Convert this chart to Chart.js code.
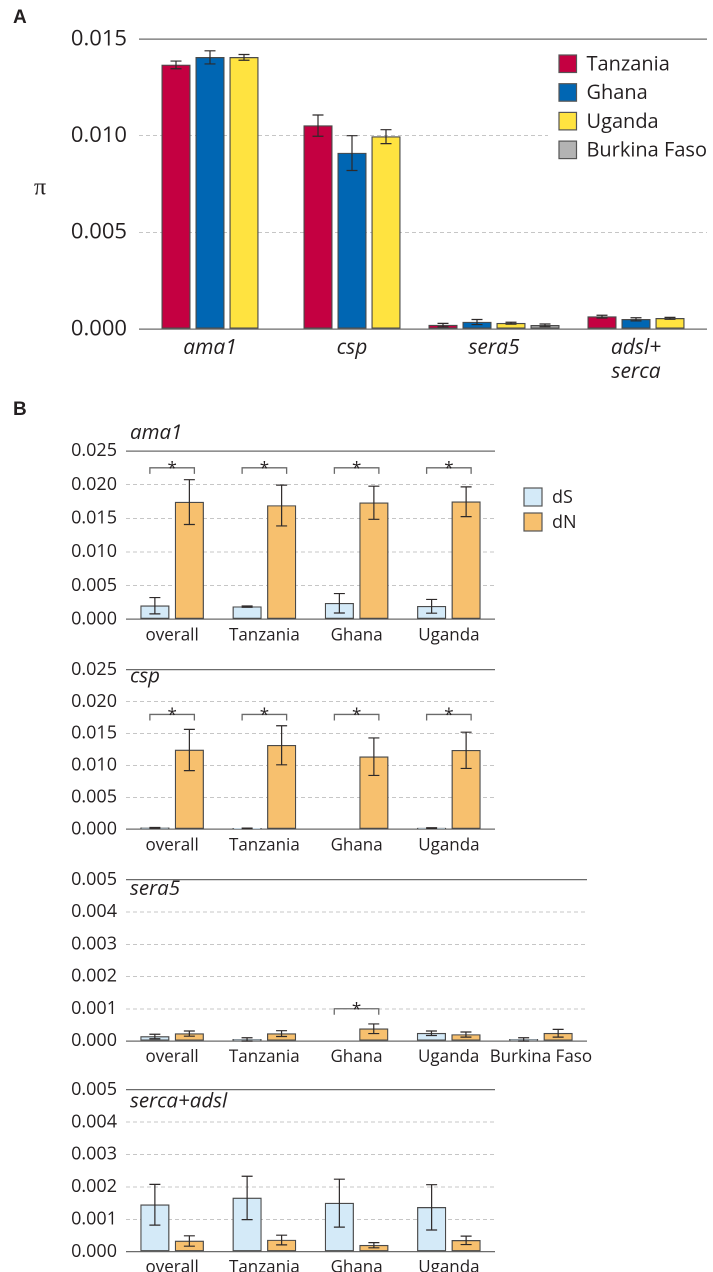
<!DOCTYPE html>
<html>
<head>
<meta charset="utf-8">
<script src="https://cdn.jsdelivr.net/npm/chart.js@4.4.0/dist/chart.umd.min.js"></script>
<style>
body { margin: 0; background: #fff; }
#page { position: relative; width: 713px; height: 1272px; overflow: hidden; background: #fff; }
canvas { position: absolute; left: 0; }
</style>
</head>
<body>
<div id="page">
  <canvas id="cA"></canvas>
  <canvas id="cAma1"></canvas>
  <canvas id="cCsp"></canvas>
  <canvas id="cSera5"></canvas>
  <canvas id="cSerca"></canvas>
</div>
<script>
// ---- panel A: nucleotide diversity (pi) per gene and country
var genesA = [['ama1'], ['csp'], ['sera5'], ['adsl+', 'serca']];
var countriesA = ['Tanzania', 'Ghana', 'Uganda', 'Burkina Faso'];
var piTanzania = [0.01366, 0.01052, 0.00020, 0.00064];
var piTanzaniaErr = [0.00020, 0.00055, 0.00009, 0.00007];
var piGhana = [0.01405, 0.00910, 0.00036, 0.00050];
var piGhanaErr = [0.00034, 0.00090, 0.00013, 0.00008];
var piUganda = [0.01405, 0.00995, 0.00030, 0.00055];
var piUgandaErr = [0.00015, 0.00036, 0.00005, 0.00005];
var piBurkina = [null, null, 0.00019, null];
var piBurkinaErr = [null, null, 0.00007, null];
var ticksA = [0, 0.005, 0.010, 0.015];

// ---- panel B: dS / dN per population
var popsB = ['overall', 'Tanzania', 'Ghana', 'Uganda'];
var popsSera5 = ['overall', 'Tanzania', 'Ghana', 'Uganda', 'Burkina Faso'];
var ticksBig = [0, 0.005, 0.010, 0.015, 0.020, 0.025];
var ticksSmall = [0, 0.001, 0.002, 0.003, 0.004, 0.005];

var ama1DS = [0.00202, 0.00188, 0.00238, 0.00193];
var ama1DSErr = [0.00121, 0.00010, 0.00144, 0.00102];
var ama1DN = [0.01741, 0.01690, 0.01731, 0.01746];
var ama1DNErr = [0.00333, 0.00303, 0.00246, 0.00221];
var ama1Sig = [true, true, true, true];

var cspDS = [0.00024, 0.00015, null, 0.00020];
var cspDSErr = [0.00005, 0.00004, null, 0.00005];
var cspDN = [0.01243, 0.01317, 0.01138, 0.01238];
var cspDNErr = [0.00323, 0.00306, 0.00294, 0.00284];
var cspSig = [true, true, true, true];

var sera5DS = [0.00014, 0.00005, null, 0.00024, 0.00005];
var sera5DSErr = [0.00007, 0.00005, null, 0.00007, 0.00005];
var sera5DN = [0.00023, 0.00023, 0.00038, 0.00020, 0.00024];
var sera5DNErr = [0.00008, 0.00009, 0.00015, 0.00008, 0.00012];
var sera5Sig = [false, false, true, false, false];

var sercaDS = [0.00145, 0.00166, 0.00150, 0.00137];
var sercaDSErr = [0.00063, 0.00067, 0.00074, 0.00070];
var sercaDN = [0.00033, 0.00036, 0.00020, 0.00035];
var sercaDNErr = [0.00016, 0.00015, 0.00008, 0.00013];
var sercaSig = [false, false, false, false];

var TEXT = '#231f20';
var FONT = "'Open Sans', sans-serif";
Chart.defaults.font.family = FONT;
Chart.defaults.color = TEXT;

// extra drawing per canvas: error bars, brackets, titles, legends
var decor = {};

var decorPlugin = {
  id: 'decor',
  afterDatasetsDraw: function (chart) {
    var ctx = chart.ctx, yS = chart.scales.y;
    ctx.save();
    ctx.strokeStyle = '#2e2a2a';
    ctx.lineWidth = 1.2;
    chart.data.datasets.forEach(function (ds, di) {
      var meta = chart.getDatasetMeta(di);
      ds.data.forEach(function (v, i) {
        var e = ds.errors[i];
        if (v == null || e == null) return;
        var x = meta.data[i].x;
        var y1 = yS.getPixelForValue(v + e);
        var y2 = yS.getPixelForValue(Math.max(v - e, 0));
        ctx.beginPath();
        ctx.moveTo(x, y1); ctx.lineTo(x, y2);
        ctx.moveTo(x - 5.5, y1); ctx.lineTo(x + 5.5, y1);
        ctx.moveTo(x - 5.5, y2); ctx.lineTo(x + 5.5, y2);
        ctx.stroke();
      });
    });
    ctx.restore();
  },
  afterDraw: function (chart) {
    var d = decor[chart.canvas.id];
    if (!d) return;
    var ctx = chart.ctx, yS = chart.scales.y;
    ctx.save();
    ctx.fillStyle = TEXT;
    if (d.letter) {
      ctx.font = "bold 19px 'Liberation Sans', Arial, sans-serif";
      ctx.textBaseline = 'middle';
      ctx.textAlign = 'left';
      ctx.fillText(d.letter, 13, d.letterY);
    }
    if (d.yTitle) {
      ctx.font = "24px 'Liberation Serif', serif";
      ctx.textAlign = 'center';
      ctx.textBaseline = 'middle';
      ctx.fillText(d.yTitle, 40, d.yTitleY);
    }
    if (d.title) {
      ctx.font = 'italic 20.5px ' + FONT;
      ctx.textAlign = 'left';
      ctx.textBaseline = 'middle';
      ctx.fillText(d.title, 130, d.titleY);
    }
    if (d.sig) {
      var m0 = chart.getDatasetMeta(0), m1 = chart.getDatasetMeta(1);
      var by = yS.getPixelForValue(d.bracketAt);
      ctx.strokeStyle = '#6a6a6a';
      ctx.lineWidth = 1.3;
      ctx.font = '17px ' + FONT;
      ctx.textAlign = 'center';
      ctx.textBaseline = 'alphabetic';
      d.sig.forEach(function (s, i) {
        if (!s) return;
        var x1 = m0.data[i].x - 5, x2 = m1.data[i].x + 5;
        ctx.beginPath();
        ctx.moveTo(x1, by + 6); ctx.lineTo(x1, by); ctx.lineTo(x2, by); ctx.lineTo(x2, by + 6);
        ctx.stroke();
        ctx.fillText('*', (x1 + x2) / 2, by + 6);
      });
    }
    if (d.legend) {
      var L = d.legend;
      if (L.bg) {
        ctx.fillStyle = '#fff';
        ctx.fillRect(L.bg[0], L.bg[1], L.bg[2], L.bg[3]);
      }
      ctx.font = L.size + 'px ' + FONT;
      ctx.textAlign = 'left';
      ctx.textBaseline = 'middle';
      chart.data.datasets.forEach(function (ds, i) {
        var y = L.y + i * L.pitch;
        ctx.fillStyle = ds.backgroundColor;
        ctx.fillRect(L.x, y, L.box, L.box);
        ctx.strokeStyle = '#555';
        ctx.lineWidth = 1.2;
        ctx.strokeRect(L.x, y, L.box, L.box);
        ctx.fillStyle = TEXT;
        ctx.fillText(ds.label, L.x + L.box + 10, y + L.box / 2 + 1);
      });
    }
    ctx.restore();
  }
};

function makeChart(id, box, labels, datasets, yTicks, opt) {
  var cv = document.getElementById(id);
  var h = box.bottomCanvas - box.topCanvas;
  cv.style.top = box.topCanvas + 'px';
  cv.style.width = '713px';
  cv.style.height = h + 'px';
  cv.width = 713;
  cv.height = h;
  var yMax = yTicks[yTicks.length - 1];
  var isEdge = function (c) {
    return !c.tick || c.tick.value < 1e-12 || Math.abs(c.tick.value - yMax) < 1e-12;
  };
  datasets.forEach(function (ds) {
    ds.borderColor = '#4a4a4a';
    ds.borderWidth = 1.2;
    ds.borderSkipped = false;
    ds.barThickness = opt.pitch;
    ds.maxBarThickness = opt.barWidth;
    if (opt.skipNull) ds.skipNull = true;
  });
  return new Chart(cv, {
    type: 'bar',
    data: { labels: labels, datasets: datasets },
    options: {
      responsive: false,
      animation: false,
      devicePixelRatio: 2,
      layout: { padding: { top: box.top - box.topCanvas, right: 713 - box.right, left: 0, bottom: 0 } },
      plugins: { legend: { display: false }, tooltip: { enabled: false } },
      scales: {
        x: {
          afterFit: function (s) { s.height = box.bottomCanvas - box.bottom; },
          grid: { display: false, drawTicks: false },
          border: { display: false },
          ticks: { padding: opt.xPad, font: opt.xFont, color: TEXT, autoSkip: false, maxRotation: 0 }
        },
        y: {
          min: 0,
          max: yMax,
          afterBuildTicks: function (s) { s.ticks = yTicks.map(function (v) { return { value: v }; }); },
          afterFit: function (s) { s.width = box.left; },
          grid: {
            drawTicks: false,
            color: function (c) { return isEdge(c) ? '#6b6b6b' : '#c6c6c6'; },
            lineWidth: function (c) { return isEdge(c) ? 1.3 : 1; }
          },
          border: { display: false, dash: function (c) { return isEdge(c) ? [] : [4, 3]; } },
          ticks: {
            padding: opt.yPad,
            font: { size: opt.ySize },
            color: TEXT,
            callback: function (v) { return Number(v).toFixed(3); }
          }
        }
      }
    },
    plugins: [decorPlugin]
  });
}

var dsStyle = '#d4eaf8', dnStyle = '#f7c06e';

function dsdn(dS, dSErr, dN, dNErr) {
  return [
    { label: 'dS', data: dS, errors: dSErr, backgroundColor: dsStyle },
    { label: 'dN', data: dN, errors: dNErr, backgroundColor: dnStyle }
  ];
}

// panel A
decor.cA = {
  letter: 'A', letterY: 18, yTitle: '\u03c0', yTitleY: 188,
  legend: { x: 559, y: 55, pitch: 28.7, box: 17.5, size: 20, bg: [548, 46, 165, 122] }
};
makeChart('cA', { topCanvas: 0, bottomCanvas: 390, top: 39, bottom: 329, left: 139, right: 707 },
  genesA,
  [
    { label: countriesA[0], data: piTanzania, errors: piTanzaniaErr, backgroundColor: '#c40041' },
    { label: countriesA[1], data: piGhana, errors: piGhanaErr, backgroundColor: '#0066b3' },
    { label: countriesA[2], data: piUganda, errors: piUgandaErr, backgroundColor: '#ffe340' },
    { label: countriesA[3], data: piBurkina, errors: piBurkinaErr, backgroundColor: '#b3b3b3' }
  ],
  ticksA,
  { pitch: 34, barWidth: 28.5, skipNull: true, xPad: 7, yPad: 12, ySize: 22,
    xFont: { size: 21, style: 'italic', lineHeight: 1.143 } });

// panel B
var xFontB = { size: 17, lineHeight: 1.2 };
decor.cAma1 = {
  letter: 'B', letterY: 15, title: 'ama1', titleY: 433 - 395,
  sig: ama1Sig, bracketAt: 0.0225,
  legend: { x: 524, y: 93, pitch: 25, box: 18, size: 18 }
};
makeChart('cAma1', { topCanvas: 395, bottomCanvas: 650, top: 451, bottom: 619.3, left: 126, right: 495 },
  popsB, dsdn(ama1DS, ama1DSErr, ama1DN, ama1DNErr), ticksBig,
  { pitch: 34.5, barWidth: 28.5, xPad: 6, yPad: 9, ySize: 18, xFont: xFontB });

decor.cCsp = { title: 'csp', titleY: 676.7 - 650, sig: cspSig, bracketAt: 0.018 };
makeChart('cCsp', { topCanvas: 650, bottomCanvas: 860, top: 661.7, bottom: 829.3, left: 126, right: 495 },
  popsB, dsdn(cspDS, cspDSErr, cspDN, cspDNErr), ticksBig,
  { pitch: 34.5, barWidth: 28.5, xPad: 6, yPad: 9, ySize: 18, xFont: xFontB });

decor.cSera5 = { title: 'sera5', titleY: 889 - 860, sig: sera5Sig, bracketAt: 0.001 };
makeChart('cSera5', { topCanvas: 860, bottomCanvas: 1070, top: 873.3, bottom: 1041, left: 126, right: 587 },
  popsSera5, dsdn(sera5DS, sera5DSErr, sera5DN, sera5DNErr), ticksSmall,
  { pitch: 34.5, barWidth: 28.5, xPad: 6, yPad: 9, ySize: 18, xFont: xFontB });

decor.cSerca = { title: 'serca+adsl', titleY: 1101.7 - 1070, sig: sercaSig, bracketAt: 0.001 };
makeChart('cSerca', { topCanvas: 1070, bottomCanvas: 1272, top: 1083.7, bottom: 1251.7, left: 126, right: 495 },
  popsB, dsdn(sercaDS, sercaDSErr, sercaDN, sercaDNErr), ticksSmall,
  { pitch: 34.5, barWidth: 28.5, xPad: 6, yPad: 9, ySize: 18, xFont: xFontB });
</script>
</body>
</html>
